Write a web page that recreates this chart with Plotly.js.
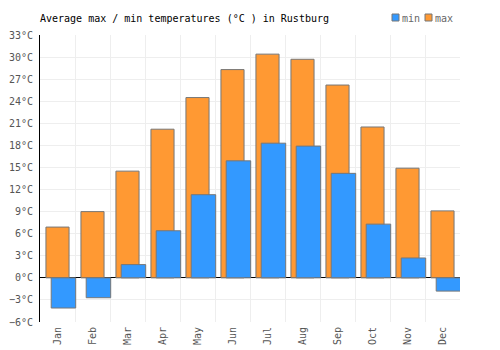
<!DOCTYPE html>
<html>
<head>
<meta charset="utf-8">
<script src="https://cdn.plot.ly/plotly-3.0.1.min.js"></script>
<style>html,body{margin:0;padding:0;background:#fff}#chart{width:500px;height:350px}</style>
</head>
<body>
<div id="chart"></div>
<script>
var months = ["Jan","Feb","Mar","Apr","May","Jun","Jul","Aug","Sep","Oct","Nov","Dec"];
var maxTemps = [6.9, 9.0, 14.5, 20.2, 24.5, 28.3, 30.4, 29.7, 26.2, 20.5, 14.9, 9.1];
var minTemps = [-4.1, -2.7, 1.8, 6.4, 11.3, 15.9, 18.3, 17.9, 14.2, 7.3, 2.7, -1.8];
var seriesNames = ["min", "max"];

var FONT = "DejaVu Sans Mono, monospace";
var BLUE = "#3399ff";
var ORANGE = "#ff9933";

var traces = [
  {
    type: "bar", name: seriesNames[1], x: months, y: maxTemps,
    width: 0.66, offset: -0.33,
    marker: {color: ORANGE, line: {color: "#777777", width: 1}},
    hoverinfo: "x+y"
  },
  {
    type: "bar", name: seriesNames[0], x: months, y: minTemps,
    width: 0.7, offset: -0.18,
    marker: {color: BLUE, line: {color: "#777777", width: 1}},
    hoverinfo: "x+y"
  }
];

var layout = {
  width: 500, height: 350,
  margin: {l: 40, r: 40, t: 35, b: 28, pad: 0},
  paper_bgcolor: "#ffffff", plot_bgcolor: "#ffffff",
  barmode: "overlay",
  showlegend: false,
  font: {family: FONT, size: 10, color: "#555555"},
  title: {
    text: "Average max / min temperatures (°C ) in Rustburg",
    font: {family: FONT, size: 10, color: "#000000"},
    x: 0, xref: "paper", xanchor: "left",
    y: 1 - 18/350, yref: "container", yanchor: "middle"
  },
  xaxis: {
    type: "category",
    tickson: "boundaries",
    showgrid: true, gridcolor: "#eeeeee", gridwidth: 1,
    ticks: "", tickangle: -90,
    ticklabelstandoff: 2,
    tickfont: {family: FONT, size: 10, color: "#555555"},
    showline: false, zeroline: false,
    range: [-0.5, 11.5]
  },
  yaxis: {
    range: [-6, 33], tick0: 0, dtick: 3,
    ticksuffix: "°C",
    showgrid: true, gridcolor: "#eeeeee", gridwidth: 1,
    zeroline: true, zerolinecolor: "#000000", zerolinewidth: 1,
    showline: true, linecolor: "#000000", linewidth: 1,
    ticks: "", ticklen: 0,
    ticklabelstandoff: 4,
    tickfont: {family: FONT, size: 10, color: "#555555"}
  },
  shapes: [
    {type: "rect", xref: "paper", yref: "paper",
     x0: (392-40)/420, x1: (399-40)/420, y0: 1 + (35-14)/287, y1: 1 + (35-21)/287,
     fillcolor: BLUE, line: {color: "#777777", width: 1}},
    {type: "rect", xref: "paper", yref: "paper",
     x0: (425-40)/420, x1: (432-40)/420, y0: 1 + (35-14)/287, y1: 1 + (35-21)/287,
     fillcolor: ORANGE, line: {color: "#777777", width: 1}}
  ],
  annotations: [
    {xref: "paper", yref: "paper", x: (400-40)/420, y: 1 + (35-18)/287,
     xanchor: "left", yanchor: "middle", showarrow: false,
     text: seriesNames[0], font: {family: FONT, size: 10, color: "#666666"}},
    {xref: "paper", yref: "paper", x: (433-40)/420, y: 1 + (35-18)/287,
     xanchor: "left", yanchor: "middle", showarrow: false,
     text: seriesNames[1], font: {family: FONT, size: 10, color: "#666666"}}
  ]
};

Plotly.newPlot("chart", traces, layout, {displayModeBar: false, staticPlot: true});
</script>
</body>
</html>
